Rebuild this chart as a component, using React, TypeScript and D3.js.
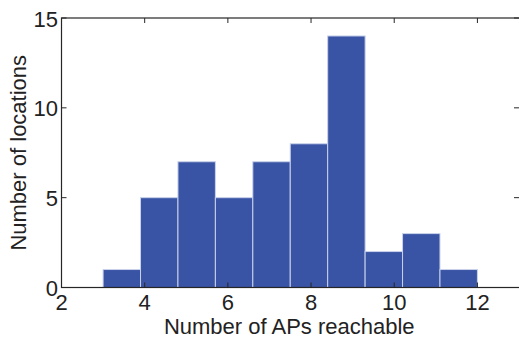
import React from "react";
import * as d3 from "d3";

const binStarts = [3, 3.9, 4.8, 5.7, 6.6, 7.5, 8.4, 9.3, 10.2, 11.1];
const binWidth = 0.9;
const counts = [1, 5, 7, 5, 7, 8, 14, 2, 3, 1];
const xTicks = [2, 4, 6, 8, 10, 12];
const yTicks = [0, 5, 10, 15];

const W = 519, H = 339;
const L = 61.5, R = 519, T = 18, B = 287.5;
const font = "'Liberation Sans', Arial, Helvetica, sans-serif";
const axisColor = "#262626";
const fs = 22;

export default function App() {
  const x = d3.scaleLinear().domain([2, 13]).range([L, R]);
  const y = d3.scaleLinear().domain([0, 15]).range([B, T]);
  const tl = 5;
  return (
    <svg width={W} height={H} style={{ position: "absolute", left: 0, top: 0 }}>
      <rect x={0} y={0} width={W} height={H} fill="#fff" />
      {counts.map((c, i) => (
        <rect key={i} x={x(binStarts[i])} y={y(c)} width={x(binStarts[i] + binWidth) - x(binStarts[i])} height={y(0) - y(c)}
          fill="#3954a5" stroke="#c9d2ea" strokeWidth={1} />
      ))}
      <rect x={L} y={T} width={R - L + 2} height={B - T} fill="none" stroke={axisColor} strokeWidth={1.2} />
      {xTicks.map((t) => (
        <g key={"x" + t}>
          <line x1={x(t)} x2={x(t)} y1={B} y2={B - tl} stroke={axisColor} />
          <line x1={x(t)} x2={x(t)} y1={T} y2={T + tl} stroke={axisColor} />
          <text x={x(t)} y={B + 22} textAnchor="middle" fontFamily={font} fontSize={fs} fill="#222">{t}</text>
        </g>
      ))}
      {yTicks.map((t) => (
        <g key={"y" + t}>
          <line x1={L} x2={L + tl} y1={y(t)} y2={y(t)} stroke={axisColor} />
          <line x1={R} x2={R - tl} y1={y(t)} y2={y(t)} stroke={axisColor} />
          <text x={L - 3.5} y={y(t) + 8.5} textAnchor="end" fontFamily={font} fontSize={fs} fill="#222">{t}</text>
        </g>
      ))}
      <text x={(L + 517) / 2} y={334.2} textAnchor="middle" fontFamily={font} fontSize={fs} fill="#222">Number of APs reachable</text>
      <text transform={`translate(26,${(T + B) / 2}) rotate(-90)`} textAnchor="middle" fontFamily={font} fontSize={fs} fill="#222">Number of locations</text>
    </svg>
  );
}
